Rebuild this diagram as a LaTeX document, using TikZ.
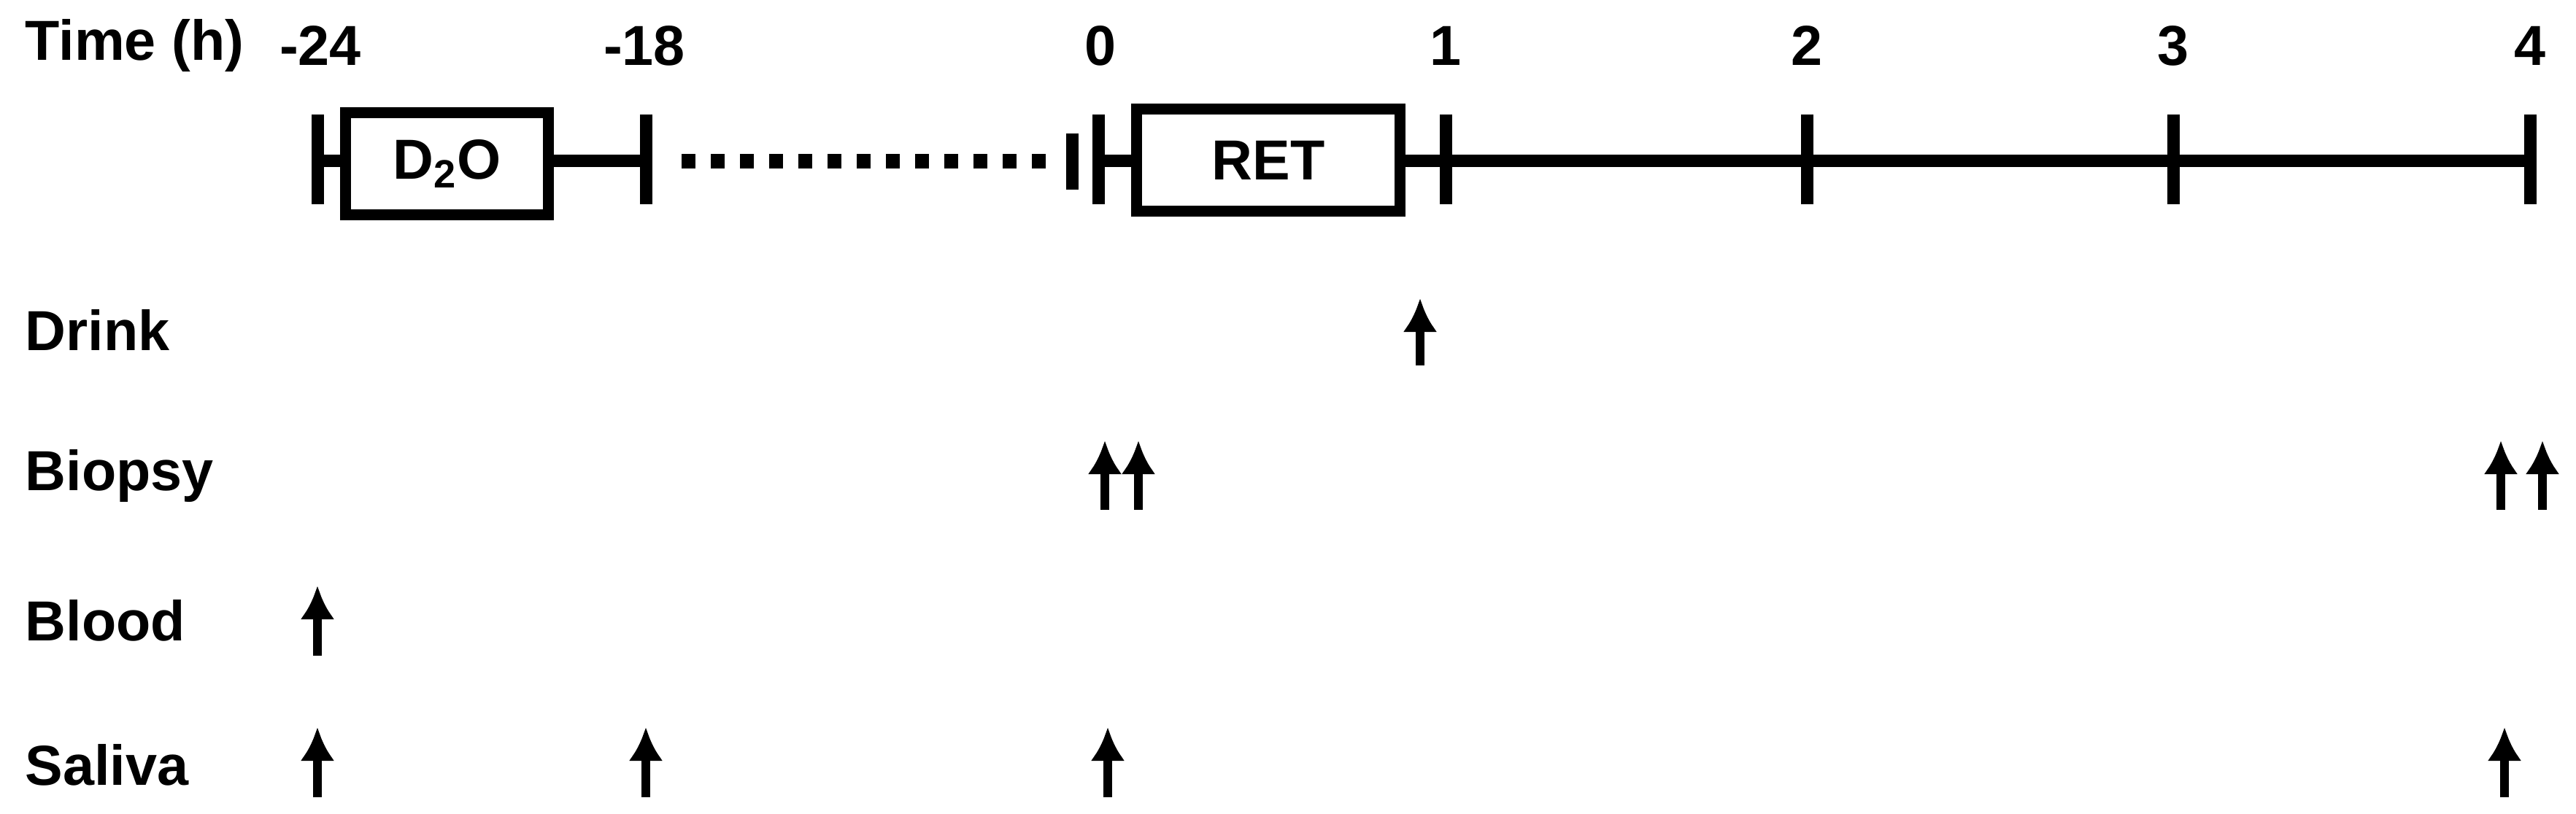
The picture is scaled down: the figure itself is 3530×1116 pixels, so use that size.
\documentclass[tikz,border=0pt]{standalone}
\usepackage{fontspec}
\setmainfont{Liberation Sans}
\usetikzlibrary{arrows.meta}
\begin{document}
\begin{tikzpicture}[x=0.01cm,y=-0.01cm,
  lbl/.style={font=\bfseries\fontsize{22}{24}\selectfont,inner sep=0},
  tl/.style={line width=0.17cm},
  tick/.style={line width=0.17cm},
  boxx/.style={draw,line width=0.15cm,fill=white,font=\bfseries\fontsize{22}{24}\selectfont},
  upar/.style={line width=0.12cm,-{Latex[length=0.46cm,width=0.47cm]}}]
\useasboundingbox (0,0) rectangle (3530,1116);
% time labels
\node[lbl,anchor=west] (th) at (34,63) {Time (h)};
\foreach \x/\t/\n in {439/-24/a,883/-18/b,1508/0/c,1981/1/d,2476/2/e,2978/3/f,3467/4/g}
  \node[lbl] (t\n) at (\x,63) {\t};
% timeline
\coordinate (l0) at (435,221); \coordinate (l1) at (885,221);
\coordinate (r0) at (1505,221); \coordinate (r1) at (3467,221);
\draw[tl] (l0) -- (l1);
\draw[tl] (r0) -- (r1);
\draw[line width=0.2cm,dash pattern=on 0.19cm off 0.21cm] (934,221) -- (1445,221);
\foreach \x in {435,885,1505,1981,2476,2978,3467}
  \draw[tick] (\x,157) -- (\x,280);
\draw[tick] (1469,183) -- (1469,260);
\node[boxx,minimum width=2.78cm,minimum height=1.4cm] (d2o) at (612.5,224.5) {D\textsubscript{2}O};
\node[boxx,minimum width=3.61cm,minimum height=1.4cm] (ret) at (1738,219.5) {RET};
% rows
\node[lbl,anchor=west] (dr) at (34,452) {Drink};
\node[lbl,anchor=west] (bi) at (34,653) {Biopsy};
\node[lbl,anchor=west] (bl) at (34,851) {Blood};
\node[lbl,anchor=west] (sa) at (34,1049) {Saliva};
% arrows
\draw[upar] (1946,501) -- (1946,409);
\foreach \x in {1514,1560,3427,3484} \draw[upar] (\x,699) -- (\x,604);
\draw[upar] (435,899) -- (435,803);
\foreach \x in {435,885,1518,3432} \draw[upar] (\x,1093) -- (\x,997);
\end{tikzpicture}
\end{document}
